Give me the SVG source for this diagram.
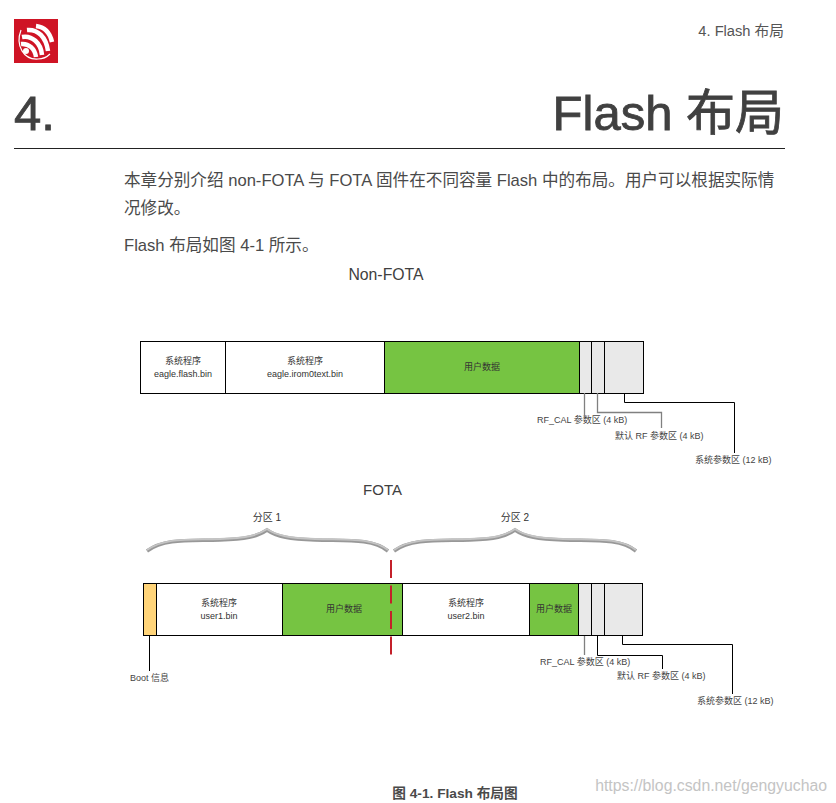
<svg xmlns="http://www.w3.org/2000/svg" width="836" height="803" viewBox="0 0 836 803">
<defs>
<filter id="shadow" x="-5%" y="-30%" width="110%" height="170%"><feGaussianBlur stdDeviation="0.6"/></filter>
</defs>
<style>
text{font-family:"Liberation Sans","Noto Sans CJK SC",sans-serif;fill:#404040}
.body{font-size:16.6px;fill:#4a4a4a}
.sm{font-size:9px;text-anchor:middle;fill:#333}
.lb{font-size:9px;fill:#444}
.head{font-size:15.800px;text-anchor:middle;fill:#404040}
.title{font-size:49px;fill:#404040;stroke:#404040;stroke-width:.8}
.box{stroke:#000;stroke-width:1;fill:#fff}
.g{fill:#76c442}
.e{fill:#e9e9e9}
.y{fill:#ffd479}
.k{fill:none;stroke:#000;stroke-width:1}
.gr{fill:none;stroke:#808080;stroke-width:1.300}
.brace{fill:none;stroke:#c4c4c4;stroke-width:1.800}
.brs{fill:none;stroke:#555;stroke-width:3.600;opacity:.6}
</style>
<rect width="836" height="803" fill="#fff"/>
<g id="logo">
<rect x="14" y="19" width="44" height="44" fill="#cf1425"/>
<g fill="none" stroke="#fff" stroke-linecap="butt">
<path d="M36 26 C45 27 50 33 52 42" stroke-width="4.500"/>
<path d="M27 30 C38 29 46 37 48 51" stroke-width="4.500"/>
<path d="M22 37 C32 35 41 43 42 55" stroke-width="4.500"/>
<path d="M21 44 C29 43 35 49 36 57" stroke-width="4.500"/>
<path d="M21 30 C15 46 24 60 38 59 C44 59 48 56 50 54" stroke-width="1.200"/>
</g>
<circle cx="26" cy="51" r="3" fill="#fff"/>
</g>
<text x="784" y="36" text-anchor="end" font-size="14.700" style="fill:#555">4. Flash 布局</text>
<text class="title" x="14" y="130">4.</text>
<text class="title" x="784" y="130" text-anchor="end">Flash 布局</text>
<line x1="14" y1="148.500" x2="785" y2="148.500" stroke="#222" stroke-width="1"/>
<text class="body" x="124" y="186">本章分别介绍 non-FOTA 与 FOTA 固件在不同容量 Flash 中的布局。用户可以根据实际情</text>
<text class="body" x="124" y="214">况修改。</text>
<text class="body" x="124" y="251">Flash 布局如图 4-1 所示。</text>
<text class="head" x="386" y="280">Non-FOTA</text>
<text class="head" x="382.500" y="495" style="font-size:15px">FOTA</text>

<g id="nonfota-bar">
<g id="n1"><rect class="box" x="140.500" y="341.500" width="85" height="52"/><text class="sm" x="183" y="364">系统程序</text><text class="sm" x="183" y="377">eagle.flash.bin</text></g>
<g id="n2"><rect class="box" x="225.500" y="341.500" width="159" height="52"/><text class="sm" x="305" y="364">系统程序</text><text class="sm" x="305" y="377">eagle.irom0text.bin</text></g>
<g id="n3"><rect class="box g" x="384.500" y="341.500" width="195" height="52"/><text class="sm" x="482" y="370">用户数据</text></g>
<g id="n4"><rect class="box e" x="579.500" y="341.500" width="12" height="52"/></g>
<g id="n5"><rect class="box e" x="591.500" y="341.500" width="13" height="52"/></g>
<g id="n6"><rect class="box e" x="604.500" y="341.500" width="39" height="52"/></g>
</g>
<g id="nonfota-labels">
<text class="lb" x="537" y="423">RF_CAL 参数区 (4 kB)</text>
<text class="lb" x="615" y="439">默认 RF 参数区 (4 kB)</text>
<text class="lb" x="695" y="463">系统参数区 (12 kB)</text>
</g>

<g id="braces">
<path class="brs" filter="url(#shadow)" d="M147 551C165 538 190 541 220 540C245 539 257 537 267 530C277 537 290 539 315 540C345 541 372 538 388 551"/>
<path class="brace" d="M147 550C165 537 190 540 220 539C245 538 257 536 267 529C277 536 290 538 315 539C345 540 372 537 388 550"/>
<path class="brs" filter="url(#shadow)" d="M394 551C412 538 440 541 470 540C495 539 505 537 515 530C525 537 538 539 563 540C593 541 620 538 636 551"/>
<path class="brace" d="M394 550C412 537 440 540 470 539C495 538 505 536 515 529C525 536 538 538 563 539C593 540 620 537 636 550"/>
<text class="sm" x="267" y="521" style="font-size:10px">分区 1</text>
<text class="sm" x="515" y="521" style="font-size:10px">分区 2</text>
</g>

<g id="fota-bar">
<g id="f0"><rect class="box y" x="143.500" y="583.500" width="13" height="52"/></g>
<g id="f1"><rect class="box" x="156.500" y="583.500" width="126" height="52"/><text class="sm" x="219" y="606">系统程序</text><text class="sm" x="219" y="619">user1.bin</text></g>
<g id="f2"><rect class="box g" x="282.500" y="583.500" width="120" height="52"/><text class="sm" x="344" y="612">用户数据</text></g>
<g id="f3"><rect class="box" x="402.500" y="583.500" width="127" height="52"/><text class="sm" x="466" y="606">系统程序</text><text class="sm" x="466" y="619">user2.bin</text></g>
<g id="f4"><rect class="box g" x="529.500" y="583.500" width="49" height="52"/><text class="sm" x="554" y="612">用户数据</text></g>
<g id="f5"><rect class="box e" x="578.500" y="583.500" width="13" height="52"/></g>
<g id="f6"><rect class="box e" x="591.500" y="583.500" width="13" height="52"/></g>
<g id="f7"><rect class="box e" x="604.500" y="583.500" width="38" height="52"/></g>
</g>

<g id="connectors">
<path class="gr" d="M584.500 393V417"/>
<path class="gr" d="M597.500 393V412.500H661.500V428"/>
<path class="k" d="M624.500 393V402.500H734.500V453"/>
<path class="k" d="M149.500 636V671"/>
<path class="gr" d="M584.500 636V655"/>
<path class="k" d="M597.500 636V655.500H662.500V669"/>
<path class="k" d="M622.500 636V644.500H732.500V694"/>
<path d="M391 560V655" fill="none" stroke="#c4202a" stroke-width="2" stroke-dasharray="18 7.500"/>
</g>

<g id="fota-labels">
<text class="lb" x="130" y="681">Boot 信息</text>
<text class="lb" x="540" y="665">RF_CAL 参数区 (4 kB)</text>
<text class="lb" x="617" y="679">默认 RF 参数区 (4 kB)</text>
<text class="lb" x="697" y="704">系统参数区 (12 kB)</text>
</g>
<text x="455" y="798" text-anchor="middle" font-size="13.700" font-weight="bold" style="fill:#4a4a4a">图 4-1. Flash 布局图</text>
<text x="827" y="791" text-anchor="end" font-size="15.800" style="fill:#c4c4c4">https://blog.csdn.net/gengyuchao</text>
</svg>
